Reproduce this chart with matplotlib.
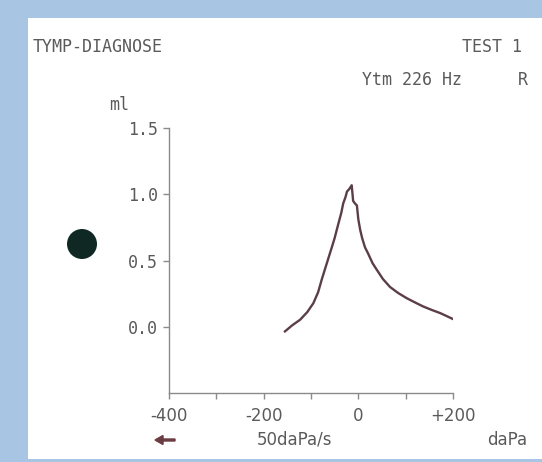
import matplotlib
matplotlib.use("Agg")
import matplotlib.pyplot as plt
from matplotlib.patches import Rectangle, Ellipse, FancyArrow

# ---- data ----
pressure_dapa = [-155, -140, -123, -108, -95, -85, -77, -70, -63, -56, -50, -42, -36, -32,
                 -27, -24, -19, -14, -11, -7, -3, 0, 4, 8, 14, 21, 30, 39, 52, 67, 84,
                 102, 120, 137, 155, 173, 190, 200]
volume_ml = [-0.035, 0.01, 0.053, 0.11, 0.178, 0.26, 0.36, 0.44, 0.52, 0.60, 0.67, 0.78, 0.86, 0.93,
             0.98, 1.02, 1.04, 1.068, 0.95, 0.93, 0.915, 0.81, 0.73, 0.67, 0.60, 0.55, 0.48, 0.43, 0.36, 0.30, 0.255,
             0.216, 0.183, 0.153, 0.127, 0.103, 0.075, 0.058]
x_ticks = [-400, -300, -200, -100, 0, 100, 200]
x_tick_labels = ["-400", "", "-200", "", "0", "", "+200"]
y_ticks = [0.0, 0.5, 1.0, 1.5]
y_tick_labels = ["0.0", "0.5", "1.0", "1.5"]

W, H = 542, 462
fig = plt.figure(figsize=(W / 100, H / 100), dpi=100)
fig.patch.set_facecolor("#a9c5e4")
fig.add_artist(Rectangle((28 / W, 3 / H), 1 - 28 / W, (459 - 18) / H,
                         transform=fig.transFigure, facecolor="white", edgecolor="none", zorder=0))

ax = fig.add_axes([169 / W, 1 - 393 / H, (453 - 169) / W, (393 - 128) / H])
ax.set_facecolor("none")
ax.plot(pressure_dapa, volume_ml, color="#5b3e48", lw=1.7, solid_joinstyle="round")
ax.set_xlim(-400, 200)
ax.set_ylim(-0.5, 1.5)
for s in ["top", "right"]:
    ax.spines[s].set_visible(False)
for s in ["left", "bottom"]:
    ax.spines[s].set_color("#8a8a8a")
    ax.spines[s].set_linewidth(1.0)
ax.set_xticks(x_ticks)
ax.set_xticklabels(x_tick_labels, fontsize=12, color="#5a5a5a", family="DejaVu Sans")
ax.set_yticks(y_ticks)
ax.set_yticklabels(y_tick_labels, fontsize=12, color="#5a5a5a", family="DejaVu Sans Mono")
ax.tick_params(axis="both", color="#8a8a8a", length=4, width=1.0)
ax.tick_params(axis="x", pad=6)
ax.tick_params(axis="y", pad=4)

mono = "DejaVu Sans Mono"
tc = "#5a5a5a"
fig.text(33 / W, 1 - 47 / H, "TYMP-DIAGNOSE", fontsize=12, family=mono, color=tc, va="center", ha="left")
fig.text(522 / W, 1 - 47 / H, "TEST 1", fontsize=12, family=mono, color=tc, va="center", ha="right")
fig.text(462 / W, 1 - 80 / H, "Ytm 226 Hz", fontsize=12, family=mono, color=tc, va="center", ha="right")
fig.text(523 / W, 1 - 80 / H, "R", fontsize=12, family=mono, color=tc, va="center", ha="center")
fig.text(119 / W, 1 - 105 / H, "ml", fontsize=12, family=mono, color=tc, va="center", ha="center")
fig.text(295 / W, 1 - 440 / H, "50daPa/s", fontsize=12, family="DejaVu Sans", color=tc, va="center", ha="center")
fig.text(507 / W, 1 - 440 / H, "daPa", fontsize=12, family="DejaVu Sans", color=tc, va="center", ha="center")
fig.add_artist(FancyArrow(175 / W, 1 - 440 / H, -20 / W, 0, width=2 / H, head_width=9 / H,
                          head_length=8 / W, length_includes_head=True,
                          transform=fig.transFigure, color="#6b3d42"))
fig.add_artist(Ellipse((82 / W, 1 - 244 / H), 30 / W, 30 / H, transform=fig.transFigure,
                       facecolor="#0f2824", edgecolor="none"))

fig.savefig("out.png", dpi=100, facecolor=fig.get_facecolor())
